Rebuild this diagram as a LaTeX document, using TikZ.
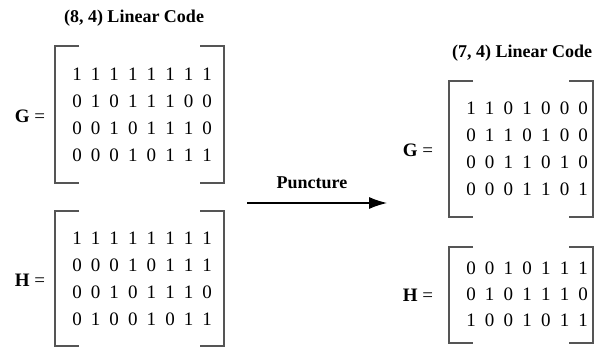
\documentclass[tikz,border=0pt]{standalone}
\usepackage{fontspec}
\setmainfont{Liberation Serif}
\usetikzlibrary{arrows.meta,positioning}
\definecolor{brackGray}{RGB}{85,85,85}

\begin{document}
\begin{tikzpicture}[x=1pt,y=-1pt,
  title/.style={font=\fontsize{18}{20}\selectfont\bfseries,inner sep=0pt},
  lbl/.style={font=\fontsize{19}{21}\selectfont,inner sep=0pt},
  bit/.style={font=\fontsize{19}{21}\selectfont,inner sep=0pt},
  brack/.style={draw=brackGray,line width=1.3pt},
  arrow/.style={-{Latex[length=18pt,width=12pt]},line width=1.1pt}
]
\useasboundingbox (0,0) rectangle (602,348);
% titles
\node[title] (titleL) at (134,18) {(8, 4) Linear Code};
\node[title] (titleR) at (522,53) {(7, 4) Linear Code};
% matrix labels
\node[lbl] (labGL) at (30,116) {\textbf{G} =};
\node[lbl] (labHL) at (30,280) {\textbf{H} =};
\node[lbl] (labGR) at (418,150) {\textbf{G} =};
\node[lbl] (labHR) at (418,295) {\textbf{H} =};
% brackets
\foreach \xa/\xb/\ya/\yb in {55/224/46/183,55/224/211/346,449/593/81/217,449/593/247/343}{
  \draw[brack] (\xa+24,\ya) -- (\xa,\ya) -- (\xa,\yb) -- (\xa+24,\yb);
  \draw[brack] (\xb-24,\ya) -- (\xb,\ya) -- (\xb,\yb) -- (\xb-24,\yb);
}
% (8,4) code
\foreach \r [count=\i] in {{1,1,1,1,1,1,1,1},{0,1,0,1,1,1,0,0},{0,0,1,0,1,1,1,0},{0,0,0,1,0,1,1,1}}
  \foreach \d [count=\j] in \r
    \node[bit] (gL-\i-\j) at (77+18.6*\j-18.6,74+27*\i-27) {\d};
\foreach \r [count=\i] in {{1,1,1,1,1,1,1,1},{0,0,0,1,0,1,1,1},{0,0,1,0,1,1,1,0},{0,1,0,0,1,0,1,1}}
  \foreach \d [count=\j] in \r
    \node[bit] (hL-\i-\j) at (77+18.6*\j-18.6,238+27*\i-27) {\d};
% (7,4) code
\foreach \r [count=\i] in {{1,1,0,1,0,0,0},{0,1,1,0,1,0,0},{0,0,1,1,0,1,0},{0,0,0,1,1,0,1}}
  \foreach \d [count=\j] in \r
    \node[bit] (gR-\i-\j) at (471+18.7*\j-18.7,108+27*\i-27) {\d};
\foreach \r [count=\i] in {{0,0,1,0,1,1,1},{0,1,0,1,1,1,0},{1,0,0,1,0,1,1}}
  \foreach \d [count=\j] in \r
    \node[bit] (hR-\i-\j) at (471+18.7*\j-18.7,268+26*\i-26) {\d};
% puncture arrow
\node[title] (punct) at (312,183) {Puncture};
\coordinate (pStart) at (247,203);
\coordinate (pEnd) at (387,203);
\draw[arrow] (pStart) -- (pEnd);
\end{tikzpicture}
\end{document}
